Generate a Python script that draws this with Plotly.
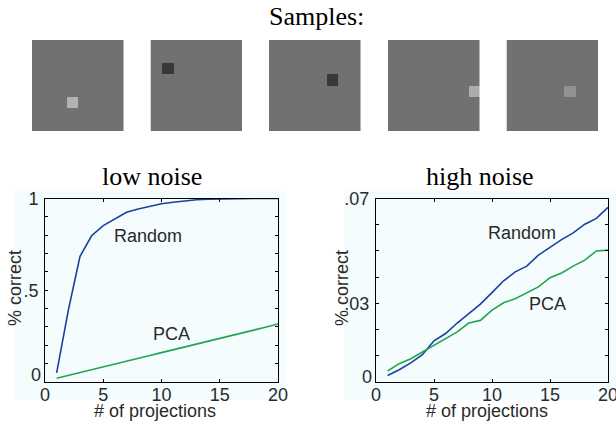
import plotly.graph_objects as go

# ---------------- data ----------------
projections = list(range(1, 21))

low_random = [0.05, 0.39, 0.684, 0.797, 0.852, 0.889, 0.925, 0.943, 0.958, 0.971,
              0.980, 0.987, 0.993, 0.996, 0.998, 0.999, 1.0, 1.0, 1.0, 1.0]
low_pca = [0.02, 0.035, 0.05, 0.066, 0.082, 0.097, 0.113, 0.128, 0.144, 0.16,
           0.175, 0.19, 0.206, 0.222, 0.237, 0.253, 0.268, 0.284, 0.30, 0.316]

high_random = [0.0025, 0.0047, 0.0073, 0.0104, 0.0157, 0.0185, 0.0225, 0.026, 0.0297, 0.0341,
               0.0386, 0.042, 0.0442, 0.0484, 0.0515, 0.0543, 0.0569, 0.0602, 0.0624, 0.0666]
high_pca = [0.0042, 0.007, 0.0089, 0.0115, 0.014, 0.0168, 0.0191, 0.0225, 0.0235, 0.0274,
            0.0302, 0.0318, 0.034, 0.0363, 0.0398, 0.0416, 0.0442, 0.0465, 0.05, 0.0503]

low_yticks = [0, .1, .2, .3, .4, .5, .6, .7, .8, .9, 1]
low_yticklabels = ["", "", "", "", "", ".5", "", "", "", "", "1"]
high_yticks = [0, .01, .02, .03, .04, .05, .06, .07]
high_yticklabels = ["", "", "", ".03", "", "", "", ".07"]
xticks = [0, 5, 10, 15, 20]
xticklabels = ["0", "5", "10", "15", "20"]

# sample images: 8x8 grid, gray background, one patch each
grid_size = 8
background_level = 113
sample_rows = [5, 2, 3, 4, 4]
sample_cols = [3, 1, 5, 7, 5]
sample_levels = [178, 57, 57, 172, 145]

# ---------------- figure ----------------
W, H = 616, 431
fig = go.Figure()

BLUE = "#1a40a0"
GREEN = "#22a54c"
PALE = "#f5fcfe"
TXT = "#2a2a2a"

def px_x(p):
    return p / W

def px_y(p):
    return (H - p) / H

# sample heatmaps
sq_lefts = [32, 150.5, 269, 388, 506.5]
sq_w = 91.5
sq_top, sq_bot = 40, 131
for i in range(5):
    z = [[background_level] * grid_size for _ in range(grid_size)]
    z[sample_rows[i]][sample_cols[i]] = sample_levels[i]
    n = i + 3
    fig.add_trace(go.Heatmap(z=z, zmin=0, zmax=255,
                             colorscale=[[0, "rgb(0,0,0)"], [1, "rgb(255,255,255)"]],
                             showscale=False, hoverinfo="skip",
                             xaxis=f"x{n}", yaxis=f"y{n}"))
    fig.layout[f"xaxis{n}"] = dict(domain=[px_x(sq_lefts[i]), px_x(sq_lefts[i] + sq_w)],
                                   visible=False, range=[-0.5, 7.5], fixedrange=True,
                                   anchor=f"y{n}", automargin=False)
    fig.layout[f"yaxis{n}"] = dict(domain=[px_y(sq_bot), px_y(sq_top)],
                                   visible=False, range=[7.5, -0.5], fixedrange=True,
                                   anchor=f"x{n}", automargin=False)

# line plots
fig.add_trace(go.Scatter(x=projections, y=low_random, mode="lines",
                         line=dict(color=BLUE, width=1.6), xaxis="x", yaxis="y"))
fig.add_trace(go.Scatter(x=projections, y=low_pca, mode="lines",
                         line=dict(color=GREEN, width=1.6), xaxis="x", yaxis="y"))
fig.add_trace(go.Scatter(x=projections, y=high_random, mode="lines",
                         line=dict(color=BLUE, width=1.6), xaxis="x2", yaxis="y2"))
fig.add_trace(go.Scatter(x=projections, y=high_pca, mode="lines",
                         line=dict(color=GREEN, width=1.6), xaxis="x2", yaxis="y2"))

tickfont = dict(family="Liberation Sans, Arial, sans-serif", size=18, color=TXT)
common_x = dict(range=[0, 20], tickmode="array", tickvals=xticks, ticktext=xticklabels,
                ticks="inside", ticklen=3, tickcolor="black", showline=True,
                linecolor="black", linewidth=1, mirror="ticks", showgrid=False,
                zeroline=False, tickfont=tickfont, ticklabelstandoff=-4,
                ticklabeloverflow="allow", automargin=False)
common_y = dict(tickmode="array", ticks="inside", ticklen=3, tickcolor="black",
                showline=True, linecolor="black", linewidth=1, mirror="ticks",
                showgrid=False, zeroline=False, tickfont=tickfont, ticklabelstandoff=2,
                ticklabeloverflow="allow", automargin=False)

y_dom = [px_y(382), px_y(198.5)]
fig.update_layout(
    xaxis=dict(domain=[px_x(45), px_x(278)], anchor="y", **common_x),
    yaxis=dict(domain=y_dom, anchor="x", range=[0, 1], tickvals=low_yticks,
               ticktext=low_yticklabels, **common_y),
    xaxis2=dict(domain=[px_x(376), px_x(608)], anchor="y2", **common_x),
    yaxis2=dict(domain=y_dom, anchor="x2", range=[0, 0.07], tickvals=high_yticks,
                ticktext=high_yticklabels, **common_y),
)

# pale backgrounds
shapes = [
    dict(type="rect", xref="paper", yref="paper", x0=px_x(14), x1=px_x(286),
         y0=px_y(400), y1=px_y(191), fillcolor=PALE, line=dict(width=0), layer="below"),
    dict(type="rect", xref="paper", yref="paper", x0=px_x(344), x1=px_x(616),
         y0=px_y(400), y1=px_y(191), fillcolor=PALE, line=dict(width=0), layer="below"),
]

serif = dict(family="Liberation Serif, Times New Roman, serif", size=26, color="black")
sans = dict(family="Liberation Sans, Arial, sans-serif", size=18, color=TXT)

annotations = [
    dict(text="Samples:", x=px_x(316), y=px_y(17), xref="paper", yref="paper",
         showarrow=False, font=serif, xanchor="center", yanchor="middle"),
    dict(text="low noise", x=px_x(152), y=px_y(176), xref="paper", yref="paper",
         showarrow=False, font=serif, xanchor="center", yanchor="middle"),
    dict(text="high noise", x=px_x(480), y=px_y(176), xref="paper", yref="paper",
         showarrow=False, font=serif, xanchor="center", yanchor="middle"),
    dict(text="# of projections", x=px_x(155), y=px_y(411), xref="paper", yref="paper",
         showarrow=False, font=sans, xanchor="center", yanchor="middle"),
    dict(text="# of projections", x=px_x(487), y=px_y(411), xref="paper", yref="paper",
         showarrow=False, font=sans, xanchor="center", yanchor="middle"),
    dict(text="% correct", x=px_x(15), y=px_y(288), xref="paper", yref="paper",
         showarrow=False, font=sans, xanchor="center", yanchor="middle", textangle=-90),
    dict(text="% correct", x=px_x(342), y=px_y(288), xref="paper", yref="paper",
         showarrow=False, font=sans, xanchor="center", yanchor="middle", textangle=-90),
    dict(text="Random", x=px_x(148), y=px_y(236), xref="paper", yref="paper",
         showarrow=False, font=sans, xanchor="center", yanchor="middle"),
    dict(text="PCA", x=px_x(171), y=px_y(334), xref="paper", yref="paper",
         showarrow=False, font=sans, xanchor="center", yanchor="middle"),
    dict(text="Random", x=px_x(522), y=px_y(233), xref="paper", yref="paper",
         showarrow=False, font=sans, xanchor="center", yanchor="middle"),
    dict(text="PCA", x=px_x(547), y=px_y(304), xref="paper", yref="paper",
         showarrow=False, font=sans, xanchor="center", yanchor="middle"),
    # zero labels of the y axes (raised, as in the original)
    dict(text="0", x=px_x(43), y=px_y(375), xref="paper", yref="paper",
         showarrow=False, font=sans, xanchor="right", yanchor="middle"),
    dict(text="0", x=px_x(374), y=px_y(377), xref="paper", yref="paper",
         showarrow=False, font=sans, xanchor="right", yanchor="middle"),
]

fig.update_layout(
    width=W, height=H, margin=dict(l=0, r=0, t=0, b=0, pad=0),
    paper_bgcolor="white", plot_bgcolor=PALE, showlegend=False,
    shapes=shapes, annotations=annotations,
)

fig.write_html("out.html", config={"displayModeBar": False})
